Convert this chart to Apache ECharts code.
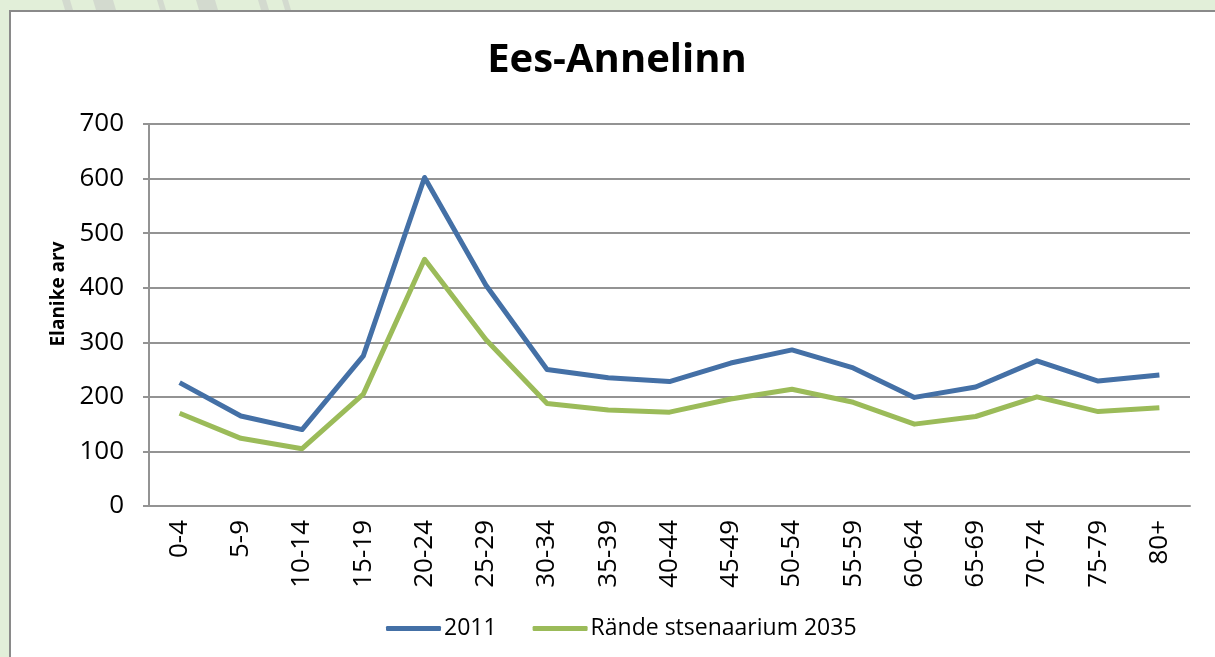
<!DOCTYPE html>
<html>
<head>
<meta charset="utf-8">
<script src="https://cdn.jsdelivr.net/npm/echarts@6/dist/echarts.min.js"></script>
<style>
  html, body { margin: 0; padding: 0; background: #e2efd9; }
  #chart { width: 1215px; height: 657px; }
</style>
</head>
<body>
<div id="chart"></div>
<script>
const ageGroups = ['0-4', '5-9', '10-14', '15-19', '20-24', '25-29', '30-34', '35-39', '40-44',
  '45-49', '50-54', '55-59', '60-64', '65-69', '70-74', '75-79', '80+']
const pop2011 = [226, 165, 140, 275, 602, 405, 250, 235, 228, 262, 286, 253, 199, 218, 266, 229, 240]
const pop2035 = [170, 124, 105, 205, 452, 305, 188, 176, 172, 196, 214, 190, 150, 164, 200, 173, 180]
const yTicks = [0, 100, 200, 300, 400, 500, 600, 700]

const FONT = '"Open Sans", "Noto Sans", sans-serif'
const AXIS_GRAY = '#939393'

// faint diagonal watermark strokes peeking above the chart box
const stripes = [[62, 70], [93, 113], [157, 163], [196, 215], [258, 266], [282, 288]]

const chart = echarts.init(document.getElementById('chart'))

chart.setOption({
  backgroundColor: '#e2efd9',
  animation: false,
  textStyle: { fontFamily: FONT },
  graphic: [
    ...stripes.map(([a, b]) => ({
      type: 'polygon', z: -2, silent: true,
      shape: { points: [[a, 0], [b, 0], [b + 3, 10], [a + 3, 10]] },
      style: { fill: '#d3dacf' },
    })),
    {
      type: 'rect', z: -1, silent: true,
      shape: { x: 10, y: 11, width: 1230, height: 680 },
      style: { fill: '#ffffff', stroke: '#8a8a8a', lineWidth: 2 },
    },
  ],
  title: {
    text: 'Ees-Annelinn',
    left: 612, top: 36, textAlign: 'center',
    textStyle: { fontFamily: FONT, fontSize: 40, fontWeight: 'bold', color: '#000' },
  },
  legend: {
    left: 381, top: 612,
    icon: 'roundRect', itemWidth: 55, itemHeight: 5, itemGap: 36,
    textStyle: { fontFamily: FONT, fontSize: 23, color: '#000', padding: [0, 0, 0, -2] },
    data: ['2011', 'Rände stsenaarium 2035'],
  },
  grid: { left: 149, right: 25, top: 124, bottom: 151 },
  xAxis: {
    type: 'category',
    data: ageGroups,
    boundaryGap: true,
    axisLine: { lineStyle: { color: AXIS_GRAY, width: 2 } },
    axisTick: { show: false },
    axisLabel: { rotate: 90, fontSize: 26, color: '#000', margin: 14, fontFamily: FONT },
  },
  yAxis: {
    type: 'value',
    min: yTicks[0], max: yTicks[yTicks.length - 1], interval: 100,
    name: 'Elanike arv',
    nameLocation: 'middle',
    nameGap: 80,
    nameTextStyle: { fontFamily: FONT, fontSize: 19, fontWeight: 'bold', color: '#000', padding: [0, 0, 0, 42] },
    axisLine: { show: true, lineStyle: { color: AXIS_GRAY, width: 2 } },
    axisTick: { show: true, length: 6, lineStyle: { color: AXIS_GRAY, width: 2 } },
    axisLabel: { fontSize: 26, color: '#000', margin: 25, fontFamily: FONT },
    splitLine: { lineStyle: { color: AXIS_GRAY, width: 2 } },
  },
  series: [
    {
      name: '2011', type: 'line', data: pop2011,
      symbol: 'none', lineStyle: { color: '#4470a6', width: 5, join: 'round' },
      itemStyle: { color: '#4470a6' },
    },
    {
      name: 'Rände stsenaarium 2035', type: 'line', data: pop2035,
      symbol: 'none', lineStyle: { color: '#9bbb59', width: 5, join: 'round' },
      itemStyle: { color: '#9bbb59' },
    },
  ],
})
</script>
</body>
</html>
